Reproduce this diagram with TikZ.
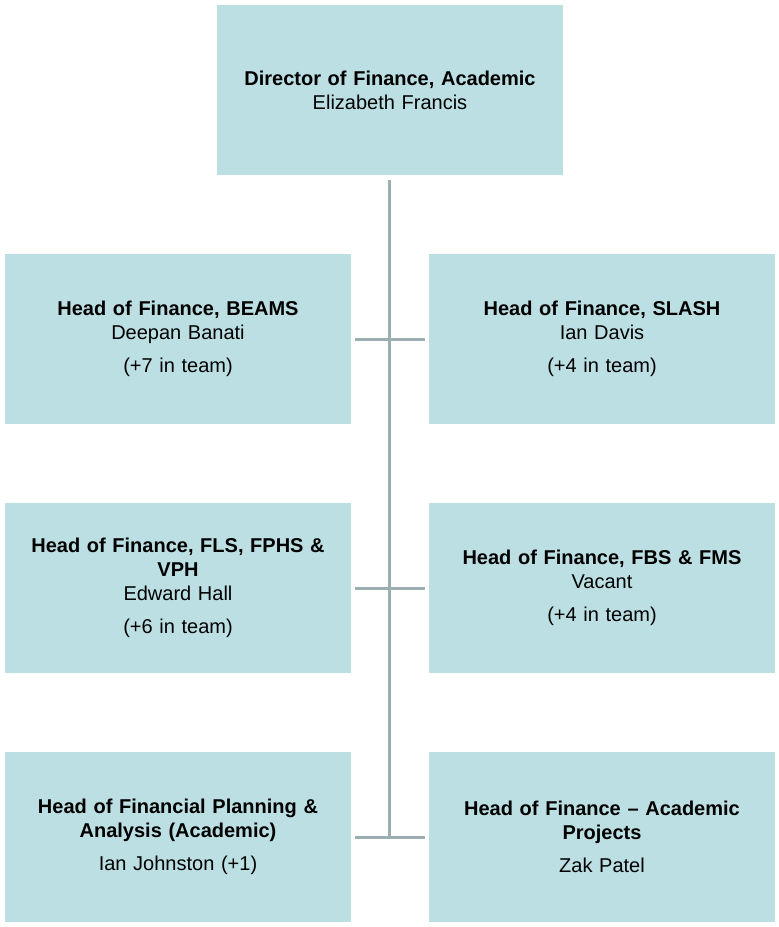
\documentclass[tikz,border=0pt]{standalone}
\usepackage{fontspec}
\setmainfont{Liberation Sans}
\usetikzlibrary{positioning}
\definecolor{boxfill}{HTML}{BBDFE2}
\definecolor{linegray}{HTML}{9BAFB2}
\tikzset{
  post/.style={fill=boxfill, minimum width=346pt, minimum height=170pt, text width=342pt, align=center, font=\fontsize{20}{24}\selectfont, inner sep=0pt},
  link/.style={draw=linegray, line width=3pt}
}
\begin{document}
\begin{tikzpicture}[x=1pt,y=-1pt]
		\useasboundingbox (0,0) rectangle (779,927);
		% Direktor
		\node[post] (dir) at (390,90) {\textbf{Director of Finance, Academic}\\Elizabeth Francis};
		% linke Spalte
		\node[post] (beams) at (178,339) {\textbf{Head of Finance, BEAMS}\\Deepan Banati\\[9pt](+7 in team)};
		\node[post] (fls) at (178,588) {\textbf{Head of Finance, FLS, FPHS \&}\\\textbf{VPH}\\Edward Hall\\[9pt](+6 in team)};
		\node[post] (fpa) at (178,837) {\textbf{Head of Financial Planning \&}\\\textbf{Analysis (Academic)}\\[9pt]Ian Johnston (+1)};
		% rechte Spalte
		\node[post] (slash) at (602,339) {\textbf{Head of Finance, SLASH}\\Ian Davis\\[9pt](+4 in team)};
		\node[post] (fbs) at (602,588) {\textbf{Head of Finance, FBS \& FMS}\\Vacant\\[9pt](+4 in team)};
		\node[post] (proj) at (602,837) {\textbf{Head of Finance -- Academic}\\\textbf{Projects}\\[9pt]Zak Patel};
		% Verbindungen
		\coordinate (top) at (389,180);
		\coordinate (bot) at (389,836);
		\draw[link] (top) -- (bot);
		\draw[link] ([xshift=4pt]beams.east) -- ([xshift=-4pt]slash.west);
		\draw[link] ([xshift=4pt]fls.east) -- ([xshift=-4pt]fbs.west);
		\draw[link] ([xshift=4pt]fpa.east) -- ([xshift=-4pt]proj.west);
\end{tikzpicture}
\end{document}
